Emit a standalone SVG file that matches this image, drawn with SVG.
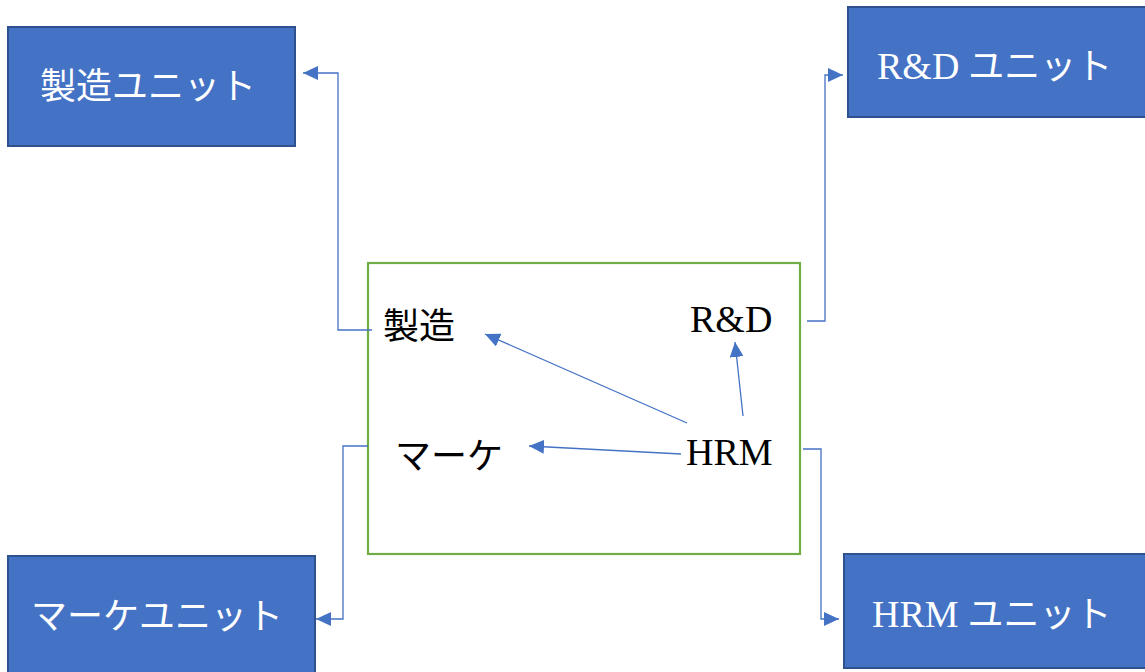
<svg xmlns="http://www.w3.org/2000/svg" width="1145" height="672" viewBox="0 0 1145 672">
  <style>
    .unit { fill: #4472C4; stroke: #2F528F; stroke-width: 2; }
    .frame { fill: none; stroke: #70AD47; stroke-width: 2.2; }
    .wire { fill: none; stroke: #4472C4; stroke-width: 1.3; marker-end: url(#tri); }
    .lbl { font-family: "Liberation Serif", "Noto Sans CJK JP", serif; font-size: 36px; }
    .w { fill: #FFFFFF; }
    .k { fill: #000000; }
    .lat { font-size: 38px; }
  </style>
  <defs>
    <marker id="tri" markerUnits="userSpaceOnUse" markerWidth="15" markerHeight="14" refX="15" refY="7" orient="auto">
      <path d="M0,0 L15,7 L0,14 Z" fill="#4472C4"/>
    </marker>
  </defs>

  <rect width="1145" height="672" fill="#FFFFFF"/>

  <!-- unit boxes -->
  <g id="unit-mfg">
    <rect class="unit" x="8" y="27" width="287" height="119"/>
    <text class="lbl w" x="40" y="99">製造ユニット</text>
  </g>
  <g id="unit-rd">
    <rect class="unit" x="848" y="7" width="300" height="110"/>
    <text class="lbl w" x="877" y="79"><tspan class="lat">R&amp;D</tspan> ユニット</text>
  </g>
  <g id="unit-mkt">
    <rect class="unit" x="8" y="556" width="307" height="120"/>
    <text class="lbl w" x="31" y="629">マーケユニット</text>
  </g>
  <g id="unit-hrm">
    <rect class="unit" x="844" y="554" width="305" height="114"/>
    <text class="lbl w" x="872" y="627"><tspan class="lat">HRM</tspan> ユニット</text>
  </g>

  <!-- central frame with functions -->
  <g id="core">
    <rect class="frame" x="368" y="263" width="432" height="291"/>
  </g>
  <g id="fn-mfg">
    <text class="lbl k" x="383" y="339">製造</text>
  </g>
  <g id="fn-rd">
    <text class="lbl k lat" x="690" y="332">R&amp;D</text>
  </g>
  <g id="fn-mkt">
    <text class="lbl k" x="395" y="469">マーケ</text>
  </g>
  <g id="fn-hrm">
    <text class="lbl k lat" x="686" y="465">HRM</text>
  </g>

  <!-- connectors -->
  <g id="connectors">
    <path class="wire" d="M372,330 H338 V73 H303"/>
    <path class="wire" d="M807,321 H825 V75 H843"/>
    <path class="wire" d="M368,446 H343 V619 H316"/>
    <path class="wire" d="M803,449 H821 V619 H839"/>
    <path class="wire" d="M687,423 L485,334"/>
    <path class="wire" d="M681,454 L529,446"/>
    <path class="wire" d="M743,416 L735,342"/>
  </g>
</svg>
